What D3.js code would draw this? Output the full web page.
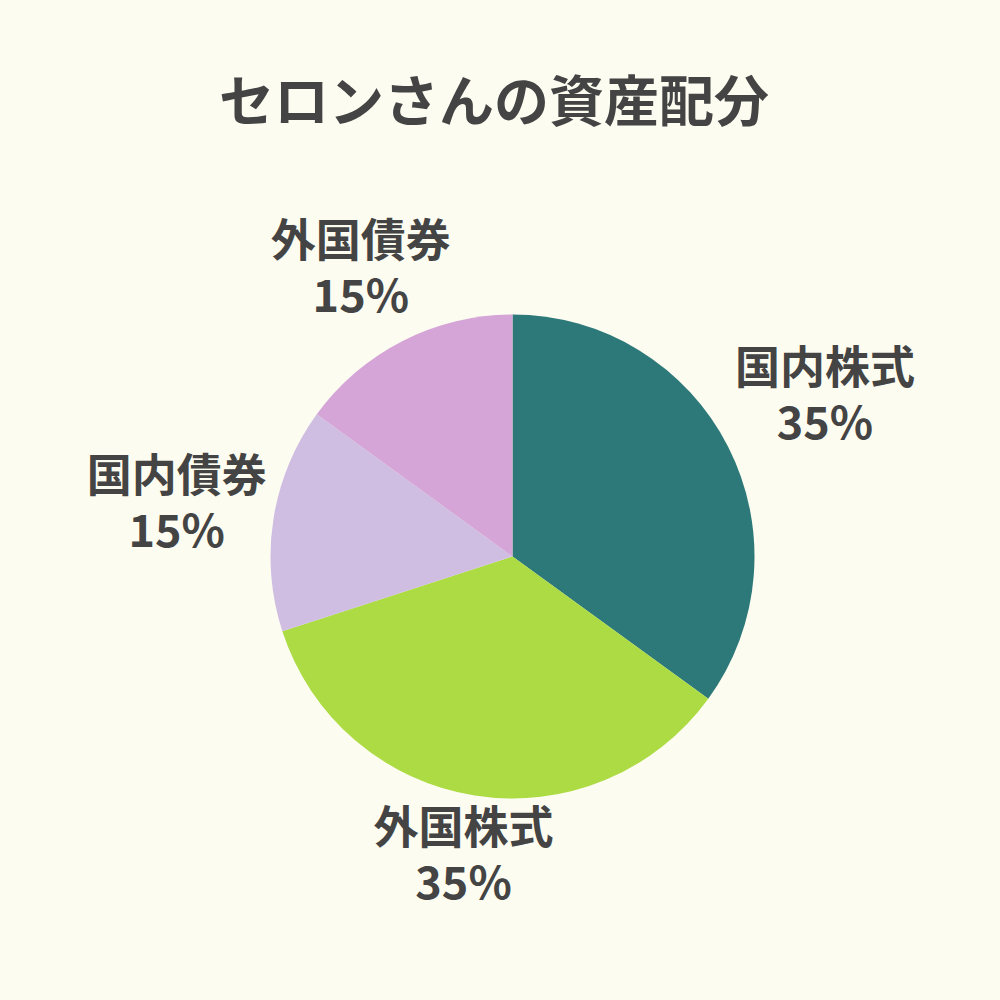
<!DOCTYPE html>
<html>
<head>
<meta charset="utf-8">
<script src="https://cdn.jsdelivr.net/npm/d3@7"></script>
<style>
  html, body { margin: 0; padding: 0; background: #fdfcf1; }
  svg { display: block; font-family: "Noto Sans CJK JP", "Noto Sans", sans-serif; }
</style>
</head>
<body>
<script>
const title = "セロンさんの資産配分";
const categories = ["国内株式", "外国株式", "国内債券", "外国債券"];
const values = [35, 35, 15, 15];
const colors = ["#2d7979", "#acdb44", "#cfbde2", "#d5a5d8"];

const width = 1000, height = 1000;
const cx = 512.5, cy = 556.5, radius = 242;

const svg = d3.select("body").append("svg")
    .attr("width", width)
    .attr("height", height);

svg.append("rect").attr("width", width).attr("height", height).attr("fill", "#fdfcf1");

svg.append("text")
    .attr("x", 494)
    .attr("y", 97)
    .attr("text-anchor", "middle")
    .attr("dominant-baseline", "central")
    .attr("font-size", 55)
    .attr("font-weight", 700)
    .attr("fill", "#444")
    .text(title);

const data = categories.map((c, i) => ({ name: c, value: values[i], color: colors[i] }));

const pie = d3.pie().value(d => d.value).sort(null);
const arc = d3.arc().innerRadius(0).outerRadius(radius);
const arcs = pie(data);

const g = svg.append("g").attr("transform", `translate(${cx},${cy})`);

g.selectAll("path")
    .data(arcs)
    .join("path")
    .attr("d", arc)
    .attr("fill", d => d.data.color);

// labels on a slightly tilted ellipse around the pie
const rx = radius * 1.426, ry = radius * 1.295, lift = 16, nudge = 5, tilt = 8;
const labelPos = d => {
    const a = (d.startAngle + d.endAngle) / 2;
    return [Math.sin(a) * rx + nudge, -Math.cos(a) * ry - lift - Math.sin(a) * tilt];
};

const labels = g.selectAll("g.label")
    .data(arcs)
    .join("g")
    .attr("class", "label")
    .attr("transform", d => `translate(${labelPos(d)})`);

labels.append("text")
    .attr("text-anchor", "middle")
    .attr("font-size", 45)
    .attr("font-weight", 700)
    .attr("fill", "#444")
    .attr("y", -27)
    .attr("dominant-baseline", "central")
    .text(d => d.data.name);

labels.append("text")
    .attr("text-anchor", "middle")
    .attr("font-size", 45)
    .attr("font-weight", 700)
    .attr("fill", "#444")
    .attr("y", 28)
    .attr("dominant-baseline", "central")
    .text(d => d.data.value + "%");
</script>
</body>
</html>
